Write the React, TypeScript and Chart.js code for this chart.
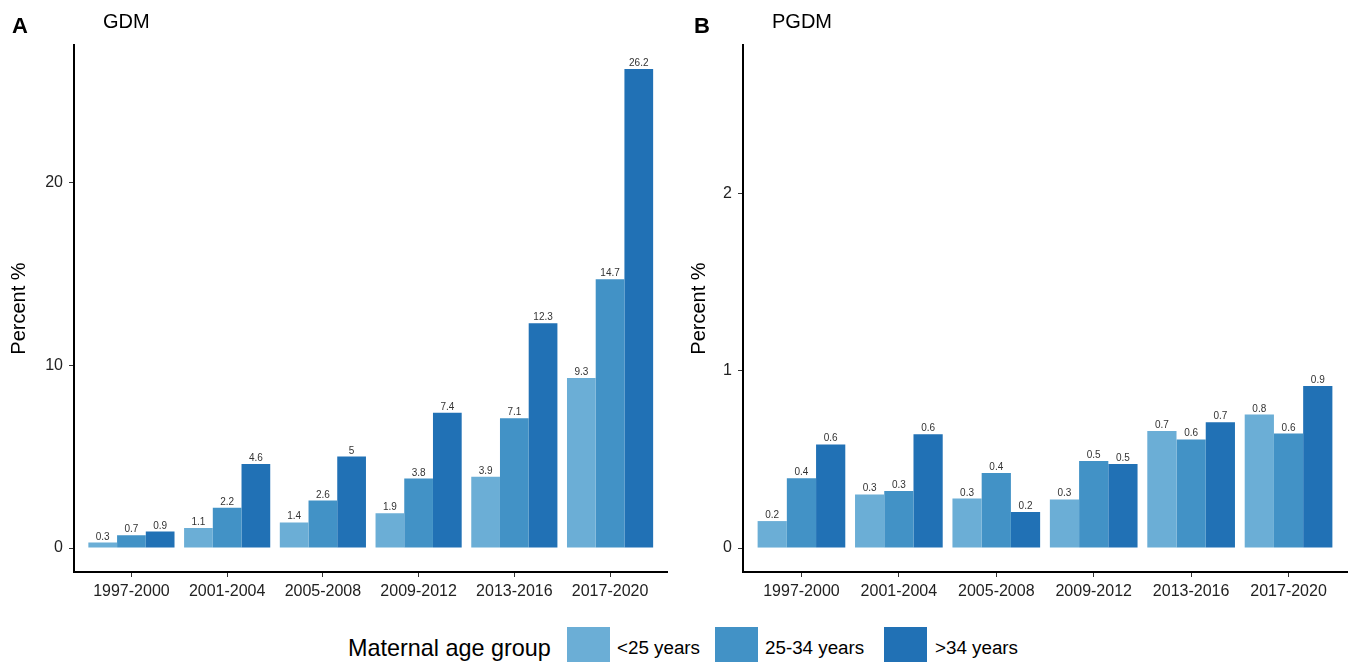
import React, { useEffect, useRef } from "react";
import { Chart, registerables } from "chart.js";

Chart.register(...registerables);

const FONT = "'Liberation Sans', Arial, Helvetica, sans-serif";
Chart.defaults.font.family = FONT;

const periods = ["1997-2000", "2001-2004", "2005-2008", "2009-2012", "2013-2016", "2017-2020"];
const ageGroups = ["<25 years", "25-34 years", ">34 years"];
const groupColors = ["#6baed6", "#4292c6", "#2171b5"];

const gdmUnder25 = [0.3, 1.1, 1.4, 1.9, 3.9, 9.3];
const gdm25to34 = [0.7, 2.2, 2.6, 3.8, 7.1, 14.7];
const gdmOver34 = [0.9, 4.6, 5.0, 7.4, 12.3, 26.2];

const pgdmUnder25 = [0.152, 0.302, 0.279, 0.274, 0.659, 0.752];
const pgdm25to34 = [0.394, 0.322, 0.423, 0.491, 0.612, 0.645];
const pgdmOver34 = [0.584, 0.642, 0.203, 0.474, 0.709, 0.913];

const gdmTicks = [0, 10, 20];
const pgdmTicks = [0, 1, 2];

const fmt = (v: number) => String(Number(v.toFixed(1)));

const valueLabels = {
  id: "valueLabels",
  afterDatasetsDraw(chart: any) {
    const ctx = chart.ctx;
    ctx.save();
    ctx.font = `10px ${FONT}`;
    ctx.fillStyle = "#333333";
    ctx.textAlign = "center";
    ctx.textBaseline = "alphabetic";
    chart.data.datasets.forEach((ds: any, di: number) => {
      const meta = chart.getDatasetMeta(di);
      meta.data.forEach((el: any, i: number) => {
        const v = ds.data[i].y;
        ctx.fillText(fmt(v), el.x, el.y - 3);
      });
    });
    ctx.restore();
  },
};

type PanelProps = {
  series: number[][];
  yMin: number;
  yMax: number;
  yTicks: number[];
  width: number;
  left: number;
  axisWidth: number;
  rightPad: number;
};

const H = 610;

function Panel({ series, yMin, yMax, yTicks, width, left, axisWidth, rightPad }: PanelProps) {
  const ref = useRef<HTMLCanvasElement | null>(null);
  useEffect(() => {
    if (!ref.current) return;
    const tickFont = { size: 16, family: FONT };
    const chart = new Chart(ref.current, {
      type: "bar",
      data: {
        datasets: series.map((vals, si) => ({
          label: ageGroups[si],
          data: vals.map((v, i) => ({ x: i + 1, y: v })),
          backgroundColor: groupColors[si],
          borderWidth: 0,
          categoryPercentage: 0.9,
          barPercentage: 1,
        })),
      },
      options: {
        animation: false,
        responsive: false,
        maintainAspectRatio: false,
        layout: { padding: { top: 45, right: rightPad, left: 0, bottom: 0 } },
        plugins: {
          legend: { display: false },
          tooltip: { enabled: false },
          title: { display: false },
        },
        scales: {
          x: {
            type: "linear",
            min: 0.4,
            max: 6.6,
            offset: false,
            afterBuildTicks: (s: any) => {
              s.ticks = periods.map((_, i) => ({ value: i + 1 }));
            },
            afterFit: (s: any) => {
              s.height = H - 572;
            },
            ticks: {
              callback: (v: any) => periods[Math.round(Number(v)) - 1] ?? "",
              font: tickFont,
              color: "#222222",
              padding: 5,
              maxRotation: 0,
              autoSkip: false,
            },
            grid: {
              display: true,
              drawOnChartArea: false,
              drawTicks: true,
              tickLength: 5,
              color: "#333333",
              lineWidth: 1,
              offset: false,
            },
            border: { display: true, color: "#000000", width: 2 },
          },
          y: {
            type: "linear",
            min: yMin,
            max: yMax,
            afterBuildTicks: (s: any) => {
              s.ticks = yTicks.map((t) => ({ value: t }));
            },
            afterFit: (s: any) => {
              s.width = axisWidth;
            },
            ticks: {
              font: tickFont,
              color: "#222222",
              padding: 6,
            },
            grid: {
              display: true,
              drawOnChartArea: false,
              drawTicks: true,
              tickLength: 5,
              color: "#333333",
              lineWidth: 1,
            },
            border: { display: true, color: "#000000", width: 2 },
            title: {
              display: true,
              text: "Percent %",
              font: { size: 20, family: FONT },
              color: "#000000",
              padding: { top: 7, bottom: 0 },
            },
          },
        },
      } as any,
      plugins: [valueLabels],
    });
    return () => chart.destroy();
  }, []);
  return (
    <canvas
      ref={ref}
      width={width}
      height={H}
      style={{ position: "absolute", left, top: 0, width, height: H }}
    />
  );
}

const textStyle = (left: number, top: number, size: number, bold = false): React.CSSProperties => ({
  position: "absolute",
  left,
  top,
  fontSize: size,
  lineHeight: `${size}px`,
  fontWeight: bold ? "bold" : "normal",
  fontFamily: FONT,
  color: "#000",
  whiteSpace: "nowrap",
});

export default function App() {
  const legendKeys = [567, 715, 884];
  const legendTexts = [617, 765, 935];
  return (
    <div
      style={{
        position: "absolute",
        left: 0,
        top: 0,
        width: 1357,
        height: 662,
        overflow: "hidden",
        background: "#ffffff",
        fontFamily: FONT,
      }}
    >
      <Panel
        series={[gdmUnder25, gdm25to34, gdmOver34]}
        yMin={-1.31}
        yMax={27.51}
        yTicks={gdmTicks}
        width={680}
        left={0}
        axisWidth={74}
        rightPad={12.5}
      />
      <Panel
        series={[pgdmUnder25, pgdm25to34, pgdmOver34]}
        yMin={-0.135}
        yMax={2.835}
        yTicks={pgdmTicks}
        width={677}
        left={680}
        axisWidth={63}
        rightPad={10}
      />
      <div style={textStyle(12, 15, 22, true)}>A</div>
      <div style={textStyle(103, 11, 20)}>GDM</div>
      <div style={textStyle(694, 15, 22, true)}>B</div>
      <div style={textStyle(772, 11, 20)}>PGDM</div>

      <div style={textStyle(348, 636.5, 23.4)}>Maternal age group</div>
      {ageGroups.map((g, i) => (
        <React.Fragment key={g}>
          <div
            style={{
              position: "absolute",
              left: legendKeys[i],
              top: 627,
              width: 43,
              height: 35,
              background: groupColors[i],
            }}
          />
          <div style={textStyle(legendTexts[i], 638.8, 18.8)}>{g}</div>
        </React.Fragment>
      ))}
    </div>
  );
}
